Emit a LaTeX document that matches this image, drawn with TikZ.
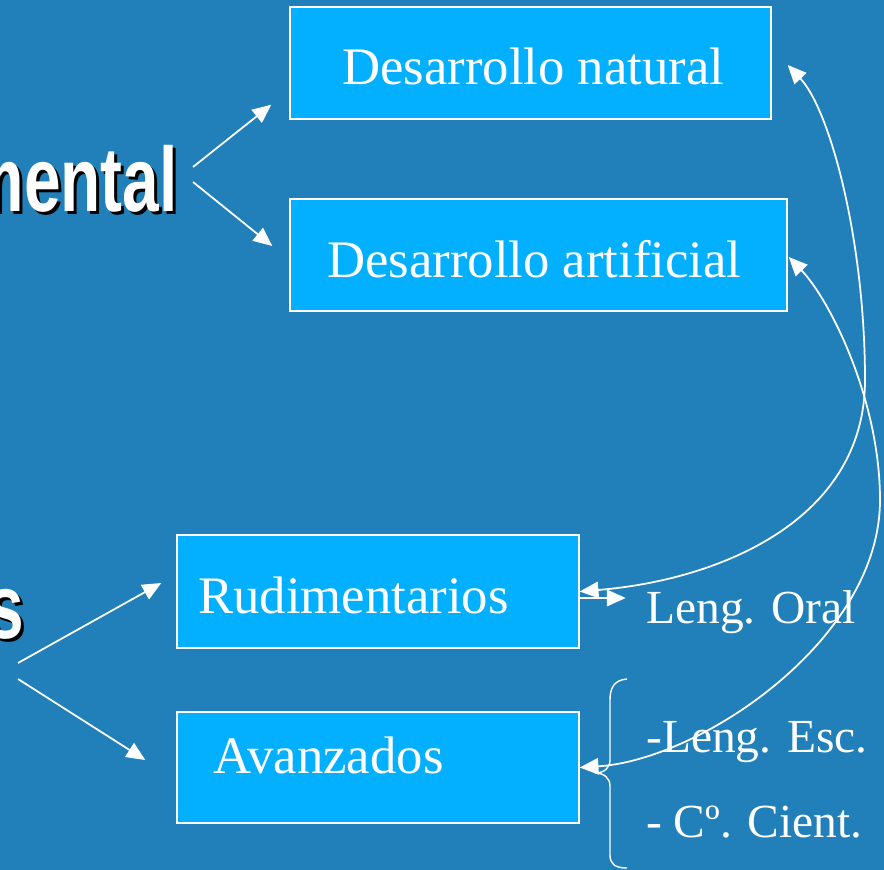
\documentclass[tikz,border=0pt]{standalone}
\usepackage{fontspec}
\usepackage{graphicx}
\setmainfont{Liberation Serif}
\newfontfamily\headfont{Liberation Sans}
\usetikzlibrary{arrows.meta,calc}
\definecolor{bg}{RGB}{33,128,185}
\definecolor{boxfill}{RGB}{3,176,255}
\newcommand\headtxt[1]{\scalebox{0.72}[1]{\headfont\bfseries\fontsize{78}{80}\selectfont #1}}
\begin{document}
\begin{tikzpicture}[x=0.03cm,y=-0.03cm,
  box/.style={draw=white,line width=1.2pt,fill=boxfill,inner sep=0pt,rectangle},
  btext/.style={text=white,font=\fontsize{45}{50}\selectfont,inner sep=0pt,anchor=base west},
  stext/.style={text=white,font=\fontsize{40.5}{45}\selectfont,inner sep=0pt,anchor=base west},
  head/.style={inner sep=0pt,anchor=base east},
  conn/.style={white,line width=1.5pt},
  arr/.style={conn,-{Triangle[length=16pt,width=14pt]}},
  darr/.style={conn,{Triangle[length=16pt,width=14pt]}-{Triangle[length=16pt,width=14pt]}}]
\useasboundingbox (0,0) rectangle (884,870);
\clip (0,0) rectangle (884,870);
\fill[bg] (0,0) rectangle (884,870);

% left heading fragments
\node[head,text=black] (mentalsh) at (181,214) {\headtxt{mental}};
\node[head,text=white] (mental) at (178,211) {\headtxt{mental}};
\node[head,text=black] (ssh) at (27,641) {\headtxt{s}};
\node[head,text=white] (s) at (24,638) {\headtxt{s}};

% boxes
\node[box,minimum width=14.43cm,minimum height=3.36cm] (nat) at (530.5,63) {};
\node[btext] (nattxt) at (342,85) {Desarrollo natural};
\node[box,minimum width=14.91cm,minimum height=3.36cm] (art) at (538.5,255) {};
\node[btext] (arttxt) at (327,277) {Desarrollo artificial};
\node[box,minimum width=12.06cm,minimum height=3.39cm] (rud) at (378,591.5) {};
\node[btext] (rudtxt) at (198,613) {Rudimentarios};
\node[box,minimum width=12.06cm,minimum height=3.33cm] (ava) at (378,767.5) {};
\node[btext] (avatxt) at (213,773) {Avanzados};

% side texts
\node[stext] (oral) at (646,623) {Leng. Oral};
\node[stext] (esc) at (646,752) {-Leng. Esc.};
\node[stext] (cient) at (646,837) {- Cº. Cient.};

% straight arrows
\coordinate (m1) at (193,167);
\coordinate (m2) at (193,182);
\coordinate (s1) at (18,663);
\coordinate (s2) at (18,679);
\draw[arr] (m1) -- ($(nat.south west)+(-18,-15)$);
\draw[arr] (m2) -- ($(art.west)+(-17,-9)$);
\draw[arr] (s1) -- ($(rud.west)+(-15,-8.5)$);
\draw[arr] (s2) -- ($(ava.west)+(-31,-7.5)$);
\draw[arr] ($(rud.east)+(0,6.5)$) -- ($(rud.east)+(46,6.5)$);

% curved arrows
\draw[darr] (rud.east) .. controls (720,580) and (865,520) .. (865,380)
  .. controls (865,240) and (830,110) .. ($(nat.east)+(16,2)$);
\draw[darr] (ava.east) .. controls (700,760) and (880,640) .. (880,500)
  .. controls (880,400) and (830,300) .. ($(art.east)+(1,2)$);

% brace
\draw[conn,line width=1.2pt] (627,679) .. controls (614,680) and (610,688) .. (610,700) -- (610,760)
  .. controls (610,768) and (604,773) .. (595,773)
  .. controls (604,773) and (610,778) .. (610,786) -- (610,855)
  .. controls (610,864) and (615,868) .. (627,868);
\end{tikzpicture}
\end{document}
